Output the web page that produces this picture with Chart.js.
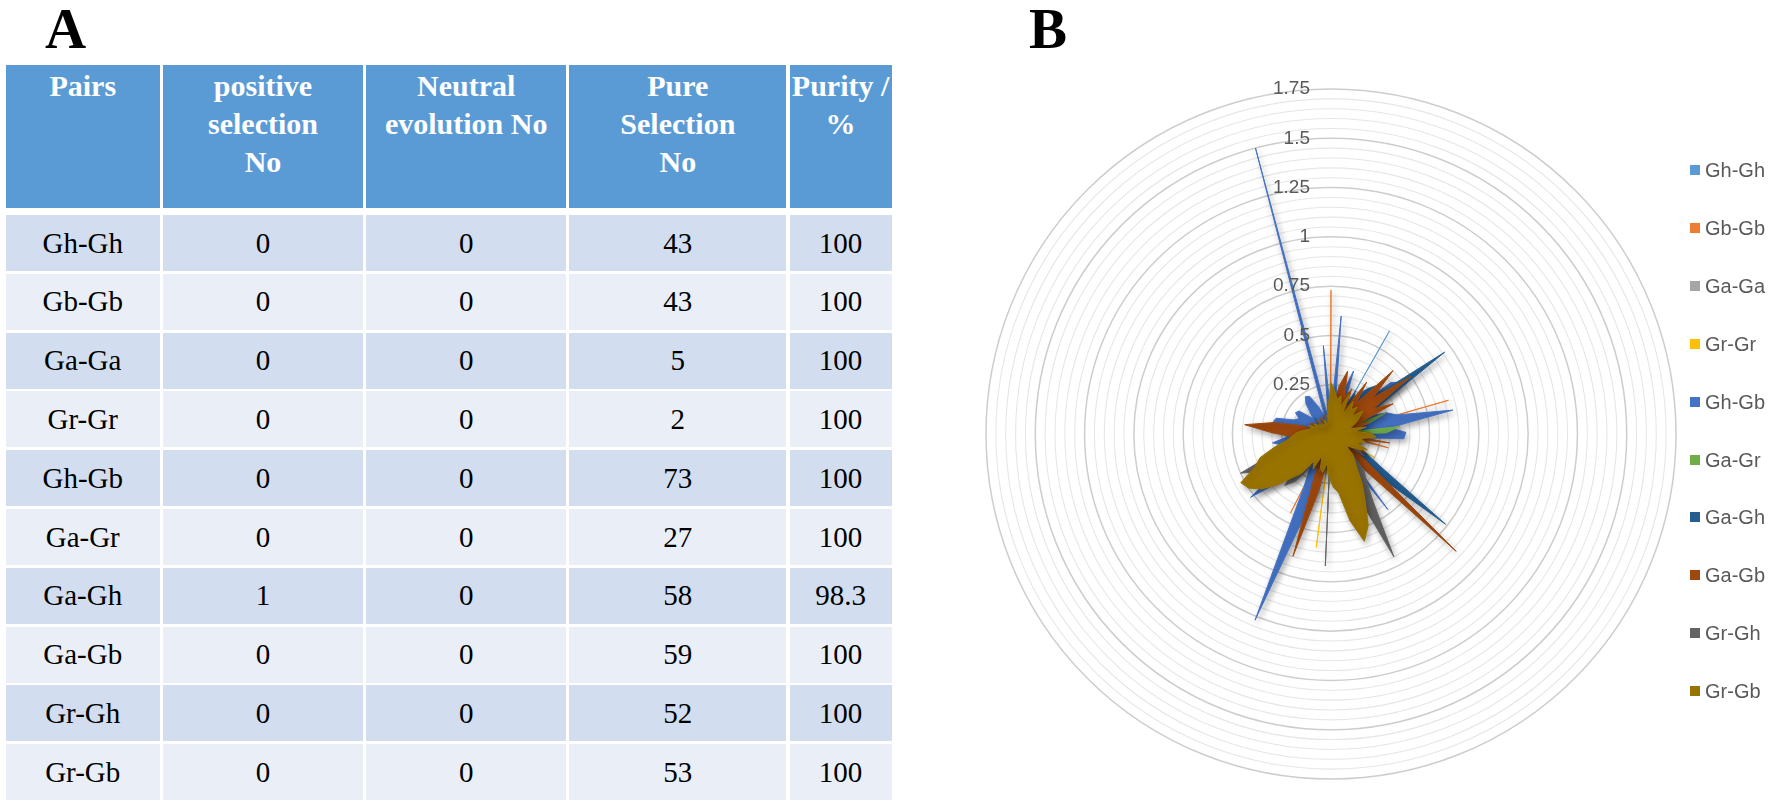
<!DOCTYPE html>
<html><head><meta charset="utf-8">
<script src="https://cdn.jsdelivr.net/npm/chart.js@4.4.0/dist/chart.umd.min.js"></script>
<style>
body{margin:0;background:#fff;width:1770px;height:811px;position:relative;overflow:hidden;}
.panel{position:absolute;font-family:"Liberation Serif","Times New Roman",serif;font-weight:bold;font-size:57px;line-height:57px;color:#000;}
.cell{position:absolute;display:flex;align-items:center;justify-content:center;font-family:"Liberation Serif","Times New Roman",serif;font-size:29px;color:#000;}
.hcell{position:absolute;font-family:"Liberation Serif","Times New Roman",serif;font-weight:bold;font-size:30px;line-height:38px;color:#fff;text-align:center;background:#5B9BD5;box-sizing:border-box;padding-top:2px;white-space:nowrap;}
.legbox{position:absolute;width:10px;height:10px;}
.legtxt{position:absolute;font-family:"Liberation Sans",Arial,sans-serif;font-size:20px;line-height:24px;color:#595959;white-space:nowrap;}
#radar{position:absolute;left:940px;top:40px;}
</style></head><body>
<div class="panel" style="left:45px;top:0px;">A</div>
<div class="panel" style="left:1029px;top:0px;">B</div>
<div id="table"></div>
<canvas id="radar" width="760" height="771"></canvas>
<div id="legend"></div>
<script>
// ---------- Table (panel A) ----------
const tableHeaders = [['Pairs'], ['positive', 'selection', 'No'], ['Neutral', 'evolution No'], ['Pure', 'Selection', 'No'], ['Purity /', '%']];
const pairs = ['Gh-Gh', 'Gb-Gb', 'Ga-Ga', 'Gr-Gr', 'Gh-Gb', 'Ga-Gr', 'Ga-Gh', 'Ga-Gb', 'Gr-Gh', 'Gr-Gb'];
const positiveNo = [0, 0, 0, 0, 0, 0, 1, 0, 0, 0];
const neutralNo = [0, 0, 0, 0, 0, 0, 0, 0, 0, 0];
const pureNo = [43, 43, 5, 2, 73, 27, 58, 59, 52, 53];
const purity = ['100', '100', '100', '100', '100', '100', '98.3', '100', '100', '100'];

// ---------- Radar (panel B) ----------
const seriesNames = ['Gh-Gh', 'Gb-Gb', 'Ga-Ga', 'Gr-Gr', 'Gh-Gb', 'Ga-Gr', 'Ga-Gh', 'Ga-Gb', 'Gr-Gh', 'Gr-Gb'];
const seriesColors = ['#5B9BD5', '#ED7D31', '#A5A5A5', '#FFC000', '#4472C4', '#70AD47', '#255E91', '#9E480E', '#636363', '#997300'];
const categories = ['1','2','3','4','5','6','7','8','9','10','11','12','13','14','15','16','17','18','19','20',
  '21','22','23','24','25','26','27','28','29','30','31','32','33','34','35','36','37','38','39','40',
  '41','42','43','44','45','46','47','48','49','50','51','52','53','54','55','56','57','58','59','60',
  '61','62','63','64','65','66','67','68','69','70','71','72','73'];
const radarTickValues = [0.25, 0.5, 0.75, 1, 1.25, 1.5, 1.75];
const radarTickLabels = ['0.25', '0.5', '0.75', '1', '1.25', '1.5', '1.75'];

const ghGh = [0.12,0.08,0,0.1,0.05,0,0.6,0,0.15,0.1,
  0.2,0,0.12,0.08,0,0.1,0.15,0,0.12,0.1,
  0,0.08,0.1,0,0.15,0.12,0,0.1,0.2,0,
  0.1,0.12,0,0.08,0.1,0,0.15,0.1,0,0.12,
  0.08,0,0.1,0.15,0,0.12,0.1,0,0.08,0.1,
  0,0.12,0.15,0,0.1,0.08,0,0.15,0.12,0,
  0.1,0.08,0,0.12,0.1,0,0.08,0.1,0,0.05,
  0,0.08,0.1];
const gbGb = [0.73,0,0.1,0.15,0,0.12,0.1,0,0.2,0.25,
  0.15,0,0.2,0.1,0,0.62,0,0.1,0.15,0,
  0.12,0.3,0,0.1,0.15,0,0.12,0,0.1,0.2,
  0,0.15,0.1,0,0.12,0.1,0,0.08,0.15,0,
  0.1,0,0.45,0,0.12,0.1,0,0.15,0,0.1,
  0.12,0,0.1,0.08,0,0.15,0.1,0,0.12,0,
  0.08,0,0.1,0.05,0,0.08,0,0.1,0.05,0,
  0.08,0,0.05];
const gaGa = [0,0,0,0,0,0,0,0,0,0.3,
  0,0,0,0,0,0,0,0,0,0,
  0,0,0,0,0,0,0,0,0,0,
  0.35,0,0,0,0,0,0,0.4,0,0,
  0,0,0,0,0,0,0,0,0,0,
  0,0,0.25,0,0,0,0,0,0,0,
  0,0,0,0,0.15,0,0,0,0,0,
  0,0,0];
const grGr = [0,0,0,0,0,0,0,0,0,0,
  0,0,0,0,0,0,0,0,0,0,
  0,0,0,0,0.25,0,0,0,0,0,
  0,0,0,0,0,0,0,0,0.58,0,
  0,0,0,0,0,0,0,0,0,0,
  0,0,0,0,0,0,0,0,0,0,
  0,0,0,0,0,0,0,0,0,0,
  0,0,0];
const ghGb = [0.1,0.6,0.12,0.2,0.34,0.15,0.2,0.25,0.3,0.2,
  0.4,0.45,0.25,0.2,0.3,0.35,0.63,0.3,0.38,0.37,
  0.12,0.1,0.08,0.15,0.1,0.08,0.25,0.12,0.1,0.48,
  0.15,0.2,0.12,0.1,0.08,0.1,0.15,0.12,0.1,0.3,
  0.4,1.02,0.3,0.2,0.25,0.3,0.35,0.52,0.3,0.25,
  0.2,0.15,0.25,0.3,0.22,0.25,0.28,0.3,0.29,0.2,
  0.18,0.21,0.2,0.12,0.15,0.2,0.23,0.22,0.15,0.1,
  1.5,0.08,0.45];
const gaGr = [0,0.12,0,0.1,0,0,0.15,0,0.12,0,
  0.2,0,0.25,0,0.3,0.2,0,0.35,0.28,0,
  0.15,0,0.15,0,0,0.1,0,0.1,0,0,
  0.12,0,0,0.12,0,0,0.1,0,0,0,
  0.15,0,0,0,0.12,0,0,0,0.1,0,
  0,0,0.15,0,0,0.12,0,0,0.1,0,
  0,0.08,0,0,0.1,0,0,0.08,0,0,
  0.1,0,0];
const gaGh = [0.15,0.1,0,0.2,0.15,0.1,0.25,0.2,0.3,0.35,
  0.3,0.71,0.3,0.2,0.1,0,0.15,0.1,0.2,0.15,
  0.1,0,0.12,0.15,0.2,0.3,0.74,0.25,0.15,0.1,
  0.12,0,0.1,0.15,0,0.1,0.12,0,0.1,0.15,
  0.2,0.12,0,0.15,0.1,0.2,0.25,0.15,0,0.1,
  0.15,0.1,0,0.12,0.15,0,0.1,0.12,0.15,0,
  0.1,0.08,0,0.1,0.12,0,0.08,0.1,0,0.1,
  0.08,0.1,0];
const gaGb = [0.2,0.15,0.25,0.33,0.2,0.25,0.15,0.32,0.2,0.45,
  0.28,0.5,0.25,0.35,0.15,0.2,0.12,0.1,0.15,0.1,
  0.3,0.1,0.15,0.1,0.2,0.15,0.25,0.87,0.2,0.15,
  0.1,0.15,0,0.12,0.1,0.15,0,0.1,0.12,0.3,
  0.65,0.2,0.15,0,0.12,0.1,0.15,0.2,0,0.12,
  0.15,0.1,0,0.12,0.2,0.3,0.44,0.3,0.15,0,
  0.12,0.1,0,0.1,0.08,0,0.1,0.08,0,0.1,
  0.08,0,0.12];
const grGh = [0.1,0.12,0,0.15,0.1,0.12,0,0.15,0.1,0.12,
  0,0.1,0.15,0,0.12,0.1,0,0.15,0.12,0,
  0.15,0.1,0,0.12,0.15,0.2,0,0.15,0.25,0.3,
  0.4,0.7,0.3,0,0.2,0.15,0,0.67,0,0.15,
  0.2,0,0.15,0.2,0.3,0.35,0.25,0.3,0.35,0.4,
  0.5,0.3,0.2,0.15,0,0.12,0.15,0,0.1,0.12,
  0,0.1,0.08,0,0.1,0.08,0,0.1,0,0.08,
  0.1,0,0.12];
const grGb = [0.26,0.22,0.18,0.2,0.15,0.22,0.12,0.2,0.16,0.19,
  0.14,0.2,0.17,0.15,0.12,0.1,0.18,0.12,0.2,0.23,
  0.15,0.18,0.14,0.2,0.17,0.12,0.1,0.15,0.18,0.22,
  0.3,0.38,0.5,0.57,0.45,0.3,0.27,0.22,0.15,0.2,
  0.18,0.12,0.2,0.16,0.25,0.3,0.38,0.45,0.5,0.52,
  0.42,0.38,0.3,0.23,0.2,0.18,0.15,0.12,0.1,0.12,
  0.08,0.1,0.06,0.08,0.05,0.07,0.05,0.06,0.08,0.05,
  0.06,0.1,0.15];
const seriesData = [ghGh, gbGb, gaGa, grGr, ghGb, gaGr, gaGh, gaGb, grGh, grGb];

// ---------- build table ----------
(function buildTable() {
  const colX = [5.7, 161.4, 364.6, 567.8, 787.9, 891.7];
  const host = document.getElementById('table');
  const gap = 1.6;
  const cellBox = (c) => {
    const l = colX[c] + (c > 0 ? gap : 0);
    const r = colX[c + 1] - (c < colX.length - 2 ? gap : 0);
    return [l, r - l];
  };
  tableHeaders.forEach((lines, c) => {
    const [l, w] = cellBox(c);
    const d = document.createElement('div');
    d.className = 'hcell';
    d.style.cssText = `left:${l}px;top:65px;width:${w}px;height:143px;`;
    d.innerHTML = lines.join('<br>');
    host.appendChild(d);
  });
  pairs.forEach((p, r) => {
    const vals = [p, positiveNo[r], neutralNo[r], pureNo[r], purity[r]];
    const top = 215 + r * 58.8;
    vals.forEach((v, c) => {
      const [l, w] = cellBox(c);
      const d = document.createElement('div');
      d.className = 'cell';
      d.style.cssText = `left:${l}px;top:${top}px;width:${w}px;height:56px;background:${r % 2 === 0 ? '#D2DEEF' : '#EAEFF7'};`;
      d.textContent = String(v);
      host.appendChild(d);
    });
  });
})();

// ---------- legend ----------
(function buildLegend() {
  const host = document.getElementById('legend');
  seriesNames.forEach((name, i) => {
    const cy = 170 + i * 57.9;
    const b = document.createElement('div');
    b.className = 'legbox';
    b.style.cssText = `left:1690px;top:${cy - 5}px;background:${seriesColors[i]};`;
    host.appendChild(b);
    const t = document.createElement('div');
    t.className = 'legtxt';
    t.style.cssText = `left:1705px;top:${cy - 12}px;`;
    t.textContent = name;
    host.appendChild(t);
  });
})();

// ---------- radar chart ----------
const isMajor = (v) => v !== undefined && Math.abs(v / 0.25 - Math.round(v / 0.25)) < 1e-6;

const radarPlugin = {
  id: 'radarExtras',
  beforeDatasetsDraw(chart) {
    const ctx = chart.ctx;
    ctx.save();
    ctx.shadowColor = 'rgba(0,0,0,0.35)';
    ctx.shadowBlur = 6;
    ctx.shadowOffsetX = 2;
    ctx.shadowOffsetY = 3;
  },
  afterDatasetsDraw(chart) {
    const ctx = chart.ctx;
    ctx.restore();
    const r = chart.scales.r;
    ctx.save();
    ctx.font = '19px "Liberation Sans", Arial, sans-serif';
    ctx.fillStyle = '#595959';
    ctx.textAlign = 'right';
    ctx.textBaseline = 'middle';
    radarTickValues.forEach((v, i) => {
      const d = r.getDistanceFromCenterForValue(v);
      ctx.fillText(radarTickLabels[i], r.xCenter - 21, r.yCenter - d);
    });
    ctx.restore();
  }
};

new Chart(document.getElementById('radar'), {
  type: 'radar',
  data: {
    labels: categories,
    datasets: seriesNames.map((name, i) => ({
      label: name,
      data: seriesData[i],
      backgroundColor: seriesColors[i],
      borderColor: seriesColors[i],
      borderWidth: 1,
      fill: true,
      pointRadius: 0,
      pointHitRadius: 0,
      tension: 0,
      order: seriesNames.length - i
    }))
  },
  options: {
    responsive: false,
    animation: false,
    devicePixelRatio: 1,
    layout: { padding: { left: 46, right: 23, top: 49, bottom: 31 } },
    plugins: { legend: { display: false }, tooltip: { enabled: false } },
    scales: {
      r: {
        min: 0,
        max: 1.75,
        ticks: { display: false, stepSize: 0.05 },
        grid: {
          circular: true,
          color: (c) => isMajor(c.tick && c.tick.value) ? '#CDCDCD' : '#E6E6E6',
          lineWidth: (c) => isMajor(c.tick && c.tick.value) ? 1.5 : 1.1
        },
        angleLines: { display: false },
        pointLabels: { display: false }
      }
    }
  },
  plugins: [radarPlugin]
});
</script>
</body></html>
